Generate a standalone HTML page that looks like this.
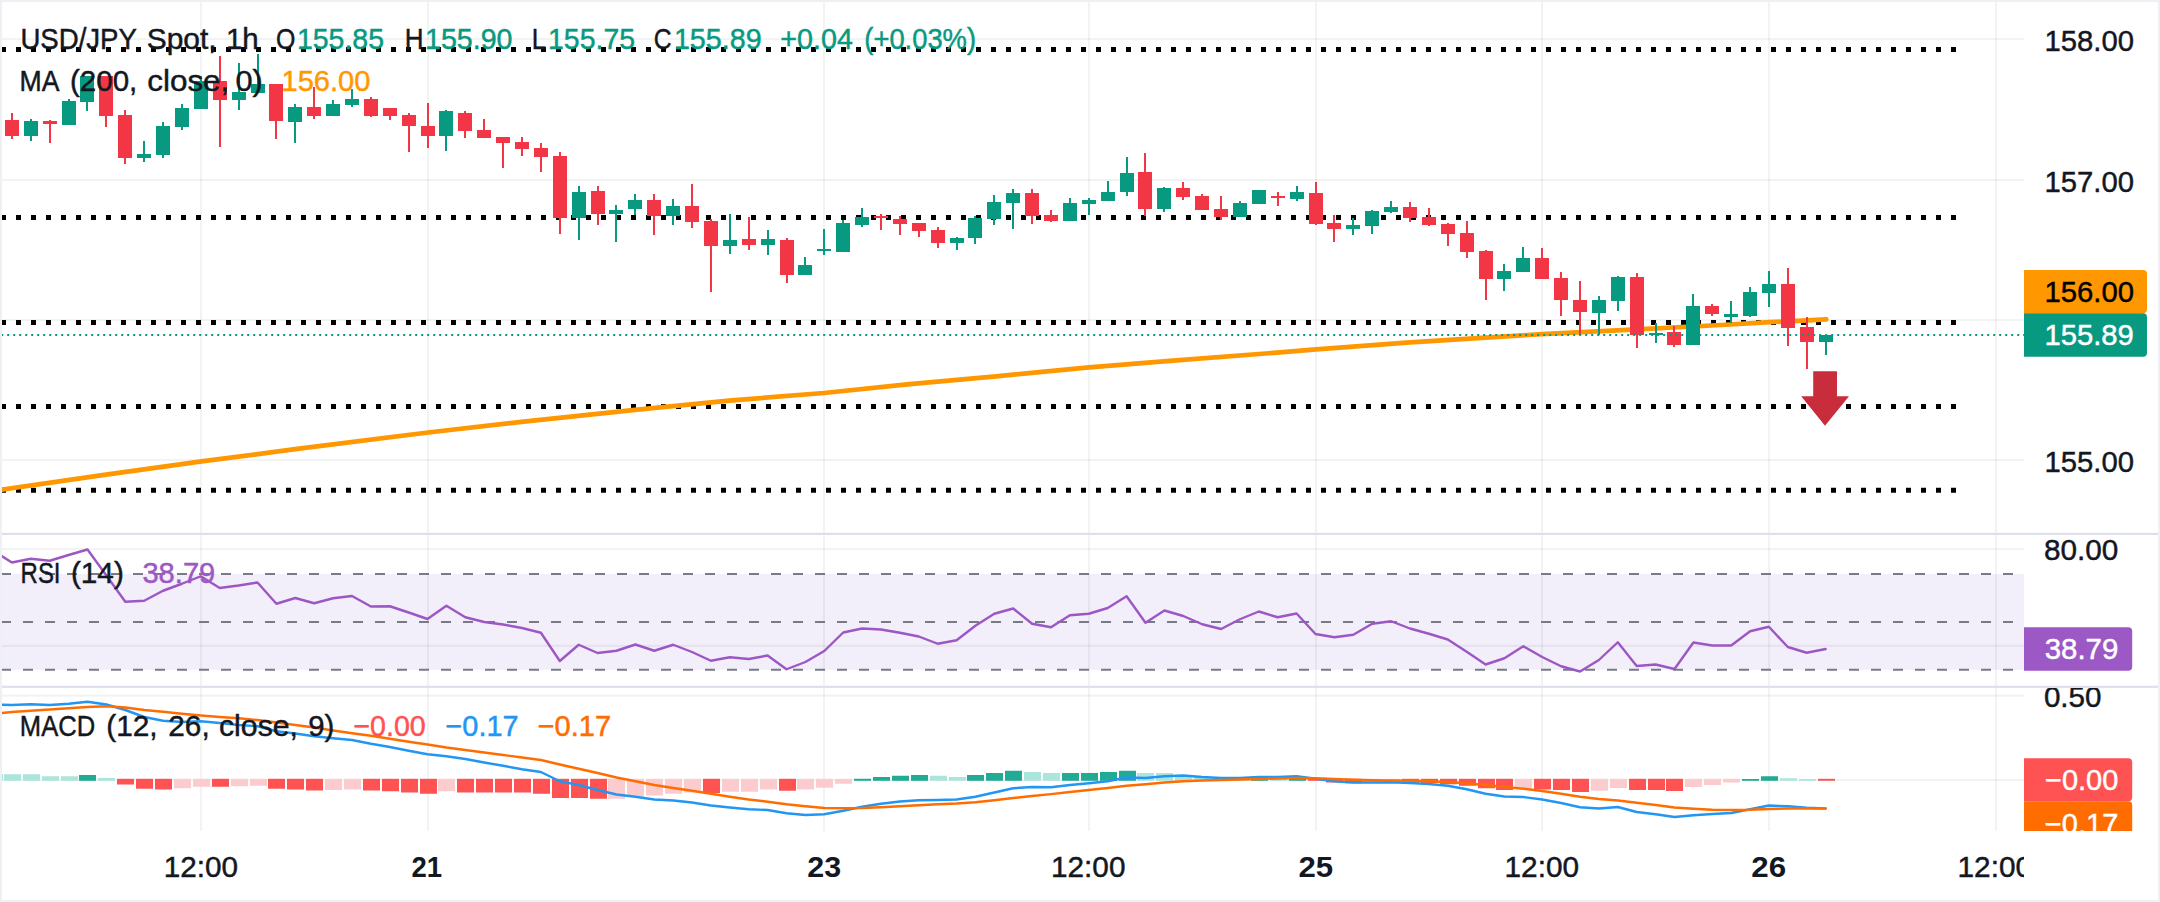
<!DOCTYPE html>
<html lang="en"><head><meta charset="utf-8"><title>USD/JPY Spot 1h chart</title>
<style>html,body{margin:0;padding:0;background:#fff}body{width:2160px;height:902px;overflow:hidden}svg{display:block}</style></head>
<body>
<svg width="2160" height="902" viewBox="0 0 2160 902" font-family="'Liberation Sans', sans-serif" role="img" aria-label="USD/JPY Spot 1h chart">
<defs>
<clipPath id="cPlot"><rect x="2" y="2" width="2022" height="829"/></clipPath>
<clipPath id="cMain"><rect x="2" y="2" width="2022" height="531"/></clipPath>
<clipPath id="cRsi"><rect x="2" y="535" width="2022" height="151"/></clipPath>
<clipPath id="cMacd"><rect x="2" y="688" width="2022" height="143"/></clipPath>
<clipPath id="cMacdAxis"><rect x="2024" y="688" width="136" height="143"/></clipPath>
<clipPath id="cTime"><rect x="0" y="831" width="2024" height="71"/></clipPath>
</defs>
<rect width="2160" height="902" fill="#ffffff"/>
<g fill="rgba(42,46,57,0.058)">
<rect x="200" y="2" width="2" height="829"/>
<rect x="427" y="2" width="2" height="829"/>
<rect x="823" y="2" width="2" height="829"/>
<rect x="1088" y="2" width="2" height="829"/>
<rect x="1315" y="2" width="2" height="829"/>
<rect x="1541" y="2" width="2" height="829"/>
<rect x="1768" y="2" width="2" height="829"/>
<rect x="1995" y="2" width="2" height="829"/>
<rect x="2" y="38.0" width="2022" height="2"/>
<rect x="2" y="179.0" width="2022" height="2"/>
<rect x="2" y="319.0" width="2022" height="2"/>
<rect x="2" y="459.0" width="2022" height="2"/>
<rect x="2" y="548.0" width="2022" height="2"/>
<rect x="2" y="644.8" width="2022" height="2"/>
<rect x="2" y="694.6" width="2022" height="2"/>
<rect x="2" y="779.0" width="2022" height="2"/>
</g>
<rect x="2" y="574" width="2022" height="95.8" fill="#f2eefa"/>
<g fill="rgba(42,46,57,0.058)">
<rect x="2" y="644.8" width="2022" height="2"/>
<rect x="200" y="574" width="2" height="95.8"/>
<rect x="427" y="574" width="2" height="95.8"/>
<rect x="823" y="574" width="2" height="95.8"/>
<rect x="1088" y="574" width="2" height="95.8"/>
<rect x="1315" y="574" width="2" height="95.8"/>
<rect x="1541" y="574" width="2" height="95.8"/>
<rect x="1768" y="574" width="2" height="95.8"/>
<rect x="1995" y="574" width="2" height="95.8"/>
</g>
<g stroke="#787b86" stroke-width="2" stroke-dasharray="10 12" clip-path="url(#cRsi)">
<line x1="1" y1="574" x2="2024" y2="574"/>
<line x1="1" y1="622" x2="2024" y2="622"/>
<line x1="1" y1="669.8" x2="2024" y2="669.8"/>
</g>
<g stroke="#000" stroke-width="5" stroke-dasharray="5 10">
<line x1="1" y1="49.5" x2="1957" y2="49.5"/>
<line x1="1" y1="217.5" x2="1957" y2="217.5"/>
<line x1="1" y1="322.5" x2="1957" y2="322.5"/>
<line x1="1" y1="406.5" x2="1957" y2="406.5"/>
<line x1="1" y1="490.2" x2="1957" y2="490.2"/>
</g>
<polyline points="-8,491.1 0,489.9 100.7,475.4 201.5,461.3 299,448.7 428,432.5 533,420.6 640,409.3 729,400.6 824,393 907,384.3 996,376.3 1089,367.4 1173,360.6 1280,352.4 1316,349.4 1410,342.4 1542,334.1 1617,330.4 1721,325 1770,322.2 1826.3,319.3" fill="none" stroke="#ff9800" stroke-width="4.7" stroke-linecap="round" stroke-linejoin="round" clip-path="url(#cMain)"/>
<g shape-rendering="crispEdges">
<rect x="11" y="113" width="2" height="26" fill="#f23645"/><rect x="5" y="120" width="14" height="16" fill="#f23645"/>
<rect x="30" y="119" width="2" height="22" fill="#089981"/><rect x="24" y="121" width="14" height="15" fill="#089981"/>
<rect x="49" y="120" width="2" height="23" fill="#f23645"/><rect x="43" y="121" width="14" height="3" fill="#f23645"/>
<rect x="68" y="99" width="2" height="26" fill="#089981"/><rect x="62" y="101" width="14" height="24" fill="#089981"/>
<rect x="86" y="76" width="2" height="35" fill="#089981"/><rect x="80" y="76" width="14" height="26" fill="#089981"/>
<rect x="105" y="76" width="2" height="51" fill="#f23645"/><rect x="99" y="76" width="14" height="40" fill="#f23645"/>
<rect x="124" y="110" width="2" height="54" fill="#f23645"/><rect x="118" y="115" width="14" height="43" fill="#f23645"/>
<rect x="143" y="141" width="2" height="21" fill="#089981"/><rect x="137" y="154" width="14" height="4" fill="#089981"/>
<rect x="162" y="122" width="2" height="36" fill="#089981"/><rect x="156" y="126" width="14" height="29" fill="#089981"/>
<rect x="181" y="104" width="2" height="26" fill="#089981"/><rect x="175" y="108" width="14" height="19" fill="#089981"/>
<rect x="200" y="76" width="2" height="33" fill="#089981"/><rect x="194" y="81" width="14" height="28" fill="#089981"/>
<rect x="219" y="56" width="2" height="91" fill="#f23645"/><rect x="213" y="81" width="14" height="19" fill="#f23645"/>
<rect x="238" y="63" width="2" height="47" fill="#089981"/><rect x="232" y="92" width="14" height="8" fill="#089981"/>
<rect x="257" y="54" width="2" height="39" fill="#089981"/><rect x="251" y="84" width="14" height="9" fill="#089981"/>
<rect x="275" y="84" width="2" height="55" fill="#f23645"/><rect x="269" y="84" width="14" height="37" fill="#f23645"/>
<rect x="294" y="104" width="2" height="39" fill="#089981"/><rect x="288" y="107" width="14" height="15" fill="#089981"/>
<rect x="313" y="87" width="2" height="32" fill="#f23645"/><rect x="307" y="107" width="14" height="9" fill="#f23645"/>
<rect x="332" y="100" width="2" height="16" fill="#089981"/><rect x="326" y="104" width="14" height="12" fill="#089981"/>
<rect x="351" y="89" width="2" height="18" fill="#089981"/><rect x="345" y="99" width="14" height="6" fill="#089981"/>
<rect x="370" y="97" width="2" height="20" fill="#f23645"/><rect x="364" y="99" width="14" height="17" fill="#f23645"/>
<rect x="389" y="108" width="2" height="12" fill="#f23645"/><rect x="383" y="108" width="14" height="8" fill="#f23645"/>
<rect x="408" y="113" width="2" height="39" fill="#f23645"/><rect x="402" y="115" width="14" height="11" fill="#f23645"/>
<rect x="427" y="103" width="2" height="45" fill="#f23645"/><rect x="421" y="126" width="14" height="10" fill="#f23645"/>
<rect x="445" y="110" width="2" height="41" fill="#089981"/><rect x="439" y="111" width="14" height="25" fill="#089981"/>
<rect x="464" y="111" width="2" height="27" fill="#f23645"/><rect x="458" y="113" width="14" height="18" fill="#f23645"/>
<rect x="483" y="119" width="2" height="19" fill="#f23645"/><rect x="477" y="130" width="14" height="8" fill="#f23645"/>
<rect x="502" y="137" width="2" height="31" fill="#f23645"/><rect x="496" y="137" width="14" height="6" fill="#f23645"/>
<rect x="521" y="137" width="2" height="19" fill="#f23645"/><rect x="515" y="142" width="14" height="7" fill="#f23645"/>
<rect x="540" y="143" width="2" height="29" fill="#f23645"/><rect x="534" y="148" width="14" height="9" fill="#f23645"/>
<rect x="559" y="152" width="2" height="82" fill="#f23645"/><rect x="553" y="156" width="14" height="62" fill="#f23645"/>
<rect x="578" y="186" width="2" height="54" fill="#089981"/><rect x="572" y="192" width="14" height="26" fill="#089981"/>
<rect x="597" y="186" width="2" height="39" fill="#f23645"/><rect x="591" y="191" width="14" height="23" fill="#f23645"/>
<rect x="615" y="205" width="2" height="37" fill="#089981"/><rect x="609" y="210" width="14" height="4" fill="#089981"/>
<rect x="634" y="194" width="2" height="21" fill="#089981"/><rect x="628" y="200" width="14" height="9" fill="#089981"/>
<rect x="653" y="194" width="2" height="41" fill="#f23645"/><rect x="647" y="200" width="14" height="16" fill="#f23645"/>
<rect x="672" y="199" width="2" height="26" fill="#089981"/><rect x="666" y="206" width="14" height="10" fill="#089981"/>
<rect x="691" y="184" width="2" height="44" fill="#f23645"/><rect x="685" y="206" width="14" height="16" fill="#f23645"/>
<rect x="710" y="219" width="2" height="73" fill="#f23645"/><rect x="704" y="221" width="14" height="25" fill="#f23645"/>
<rect x="729" y="214" width="2" height="40" fill="#089981"/><rect x="723" y="240" width="14" height="6" fill="#089981"/>
<rect x="748" y="217" width="2" height="33" fill="#f23645"/><rect x="742" y="239" width="14" height="6" fill="#f23645"/>
<rect x="767" y="230" width="2" height="25" fill="#089981"/><rect x="761" y="239" width="14" height="6" fill="#089981"/>
<rect x="786" y="238" width="2" height="45" fill="#f23645"/><rect x="780" y="240" width="14" height="35" fill="#f23645"/>
<rect x="804" y="257" width="2" height="18" fill="#089981"/><rect x="798" y="265" width="14" height="10" fill="#089981"/>
<rect x="823" y="229" width="2" height="26" fill="#089981"/><rect x="817" y="249" width="14" height="2" fill="#089981"/>
<rect x="842" y="220" width="2" height="32" fill="#089981"/><rect x="836" y="223" width="14" height="29" fill="#089981"/>
<rect x="861" y="208" width="2" height="19" fill="#089981"/><rect x="855" y="217" width="14" height="8" fill="#089981"/>
<rect x="880" y="214" width="2" height="16" fill="#f23645"/><rect x="874" y="216" width="14" height="2" fill="#f23645"/>
<rect x="899" y="216" width="2" height="19" fill="#f23645"/><rect x="893" y="219" width="14" height="5" fill="#f23645"/>
<rect x="918" y="223" width="2" height="14" fill="#f23645"/><rect x="912" y="223" width="14" height="8" fill="#f23645"/>
<rect x="937" y="227" width="2" height="21" fill="#f23645"/><rect x="931" y="230" width="14" height="13" fill="#f23645"/>
<rect x="956" y="237" width="2" height="13" fill="#089981"/><rect x="950" y="238" width="14" height="5" fill="#089981"/>
<rect x="974" y="216" width="2" height="28" fill="#089981"/><rect x="968" y="218" width="14" height="20" fill="#089981"/>
<rect x="993" y="195" width="2" height="30" fill="#089981"/><rect x="987" y="202" width="14" height="17" fill="#089981"/>
<rect x="1012" y="189" width="2" height="40" fill="#089981"/><rect x="1006" y="193" width="14" height="10" fill="#089981"/>
<rect x="1031" y="189" width="2" height="35" fill="#f23645"/><rect x="1025" y="193" width="14" height="23" fill="#f23645"/>
<rect x="1050" y="210" width="2" height="12" fill="#f23645"/><rect x="1044" y="215" width="14" height="6" fill="#f23645"/>
<rect x="1069" y="198" width="2" height="23" fill="#089981"/><rect x="1063" y="203" width="14" height="18" fill="#089981"/>
<rect x="1088" y="198" width="2" height="17" fill="#089981"/><rect x="1082" y="200" width="14" height="4" fill="#089981"/>
<rect x="1107" y="181" width="2" height="20" fill="#089981"/><rect x="1101" y="192" width="14" height="9" fill="#089981"/>
<rect x="1126" y="157" width="2" height="39" fill="#089981"/><rect x="1120" y="173" width="14" height="19" fill="#089981"/>
<rect x="1144" y="153" width="2" height="63" fill="#f23645"/><rect x="1138" y="172" width="14" height="37" fill="#f23645"/>
<rect x="1163" y="187" width="2" height="25" fill="#089981"/><rect x="1157" y="188" width="14" height="21" fill="#089981"/>
<rect x="1182" y="182" width="2" height="18" fill="#f23645"/><rect x="1176" y="188" width="14" height="9" fill="#f23645"/>
<rect x="1201" y="194" width="2" height="16" fill="#f23645"/><rect x="1195" y="196" width="14" height="14" fill="#f23645"/>
<rect x="1220" y="196" width="2" height="24" fill="#f23645"/><rect x="1214" y="209" width="14" height="8" fill="#f23645"/>
<rect x="1239" y="201" width="2" height="16" fill="#089981"/><rect x="1233" y="203" width="14" height="14" fill="#089981"/>
<rect x="1258" y="190" width="2" height="14" fill="#089981"/><rect x="1252" y="190" width="14" height="14" fill="#089981"/>
<rect x="1277" y="192" width="2" height="14" fill="#f23645"/><rect x="1271" y="196" width="14" height="2" fill="#f23645"/>
<rect x="1296" y="186" width="2" height="15" fill="#089981"/><rect x="1290" y="192" width="14" height="7" fill="#089981"/>
<rect x="1315" y="182" width="2" height="43" fill="#f23645"/><rect x="1309" y="193" width="14" height="31" fill="#f23645"/>
<rect x="1333" y="215" width="2" height="27" fill="#f23645"/><rect x="1327" y="223" width="14" height="6" fill="#f23645"/>
<rect x="1352" y="218" width="2" height="17" fill="#089981"/><rect x="1346" y="225" width="14" height="4" fill="#089981"/>
<rect x="1371" y="210" width="2" height="24" fill="#089981"/><rect x="1365" y="211" width="14" height="15" fill="#089981"/>
<rect x="1390" y="201" width="2" height="12" fill="#089981"/><rect x="1384" y="207" width="14" height="5" fill="#089981"/>
<rect x="1409" y="202" width="2" height="20" fill="#f23645"/><rect x="1403" y="207" width="14" height="11" fill="#f23645"/>
<rect x="1428" y="208" width="2" height="18" fill="#f23645"/><rect x="1422" y="217" width="14" height="8" fill="#f23645"/>
<rect x="1447" y="223" width="2" height="23" fill="#f23645"/><rect x="1441" y="224" width="14" height="10" fill="#f23645"/>
<rect x="1466" y="221" width="2" height="37" fill="#f23645"/><rect x="1460" y="233" width="14" height="19" fill="#f23645"/>
<rect x="1485" y="250" width="2" height="50" fill="#f23645"/><rect x="1479" y="251" width="14" height="28" fill="#f23645"/>
<rect x="1503" y="264" width="2" height="27" fill="#089981"/><rect x="1497" y="271" width="14" height="8" fill="#089981"/>
<rect x="1522" y="247" width="2" height="25" fill="#089981"/><rect x="1516" y="258" width="14" height="14" fill="#089981"/>
<rect x="1541" y="248" width="2" height="31" fill="#f23645"/><rect x="1535" y="258" width="14" height="21" fill="#f23645"/>
<rect x="1560" y="272" width="2" height="44" fill="#f23645"/><rect x="1554" y="278" width="14" height="22" fill="#f23645"/>
<rect x="1579" y="281" width="2" height="54" fill="#f23645"/><rect x="1573" y="300" width="14" height="12" fill="#f23645"/>
<rect x="1598" y="296" width="2" height="39" fill="#089981"/><rect x="1592" y="300" width="14" height="13" fill="#089981"/>
<rect x="1617" y="276" width="2" height="35" fill="#089981"/><rect x="1611" y="277" width="14" height="24" fill="#089981"/>
<rect x="1636" y="273" width="2" height="75" fill="#f23645"/><rect x="1630" y="277" width="14" height="58" fill="#f23645"/>
<rect x="1655" y="323" width="2" height="20" fill="#089981"/><rect x="1649" y="333" width="14" height="2" fill="#089981"/>
<rect x="1673" y="326" width="2" height="21" fill="#f23645"/><rect x="1667" y="332" width="14" height="13" fill="#f23645"/>
<rect x="1692" y="294" width="2" height="51" fill="#089981"/><rect x="1686" y="306" width="14" height="39" fill="#089981"/>
<rect x="1711" y="304" width="2" height="12" fill="#f23645"/><rect x="1705" y="306" width="14" height="8" fill="#f23645"/>
<rect x="1730" y="301" width="2" height="22" fill="#089981"/><rect x="1724" y="314" width="14" height="3" fill="#089981"/>
<rect x="1749" y="287" width="2" height="30" fill="#089981"/><rect x="1743" y="292" width="14" height="24" fill="#089981"/>
<rect x="1768" y="271" width="2" height="36" fill="#089981"/><rect x="1762" y="284" width="14" height="9" fill="#089981"/>
<rect x="1787" y="268" width="2" height="78" fill="#f23645"/><rect x="1781" y="284" width="14" height="44" fill="#f23645"/>
<rect x="1806" y="317" width="2" height="52" fill="#f23645"/><rect x="1800" y="327" width="14" height="15" fill="#f23645"/>
<rect x="1825" y="335" width="2" height="20" fill="#089981"/><rect x="1819" y="335" width="14" height="7" fill="#089981"/>
</g>
<line x1="1.2" y1="335" x2="2024" y2="335" stroke="#089981" stroke-width="2" stroke-dasharray="2 4"/>
<path d="M1813.2 371.3H1837V396.2H1849L1825 425.8L1801.2 396.2H1813.2Z" fill="#c92d3b"/>
<polyline points="-7.0,550.6 11.9,562.5 30.8,558.75 49.7,560.75 68.6,555 87.5,549.5 106.4,575.5 125.3,601.75 144.2,600.75 163.0,590.75 181.9,583.75 200.8,576.25 219.7,588 238.6,585.5 257.5,582.5 276.4,603.75 295.3,598 314.2,603.25 333.1,598.25 352.0,596 370.9,606.5 389.8,606.25 408.7,612.5 427.5,619 446.4,605.75 465.3,617.25 484.2,622 503.1,624.5 522.0,628 540.9,632.75 559.8,661 578.7,644.75 597.6,653 616.5,650.75 635.4,644.5 654.3,650.75 673.2,644.75 692.0,652 710.9,660.75 729.8,657.25 748.7,659 767.6,655.5 786.5,669.25 805.4,662 824.3,651 843.2,632.5 862.1,628.5 881.0,629.5 899.9,632.75 918.8,636.5 937.7,643.75 956.6,640.25 975.4,625.75 994.3,613.75 1013.2,608.5 1032.1,623.75 1051.0,627.25 1069.9,615.25 1088.8,613.75 1107.7,608 1126.6,596.25 1145.5,622.75 1164.4,610.5 1183.3,616 1202.2,624.25 1221.1,629 1239.9,619.25 1258.8,611.5 1277.7,617.25 1296.6,613.5 1315.5,634 1334.4,637.25 1353.3,634.75 1372.2,623.75 1391.1,621.25 1410.0,628.5 1428.9,633.75 1447.8,639.5 1466.7,651.75 1485.6,664.5 1504.4,658.25 1523.3,646.25 1542.2,657 1561.1,666.25 1580.0,671.5 1598.9,660 1617.8,642.25 1636.7,666 1655.6,664.5 1674.5,669 1693.4,642.5 1712.3,645.5 1731.2,645.5 1750.1,631.25 1768.9,626.75 1787.8,647 1806.7,652.75 1825.6,649" fill="none" stroke="#9d57c5" stroke-width="2.4" stroke-linejoin="round" stroke-linecap="round" clip-path="url(#cRsi)"/>
<g clip-path="url(#cMacd)">
<rect x="-14.0" y="774" width="17" height="6.8" fill="#ace5dc"/>
<rect x="4.0" y="774.25" width="17" height="6.55" fill="#ace5dc"/>
<rect x="23.0" y="774.25" width="17" height="6.55" fill="#ace5dc"/>
<rect x="42.0" y="776.25" width="17" height="4.55" fill="#ace5dc"/>
<rect x="61.0" y="776.25" width="17" height="4.55" fill="#ace5dc"/>
<rect x="79.0" y="775" width="17" height="5.8" fill="#22ab94"/>
<rect x="98.0" y="778" width="17" height="2.8" fill="#ace5dc"/>
<rect x="117.0" y="778.8" width="17" height="5.7" fill="#ff5252"/>
<rect x="136.0" y="778.8" width="17" height="9.95" fill="#ff5252"/>
<rect x="155.0" y="778.8" width="17" height="10.7" fill="#ff5252"/>
<rect x="174.0" y="778.8" width="17" height="9.45" fill="#fccbcd"/>
<rect x="193.0" y="778.8" width="17" height="7.95" fill="#fccbcd"/>
<rect x="212.0" y="778.8" width="17" height="7.95" fill="#ff5252"/>
<rect x="231.0" y="778.8" width="17" height="7.45" fill="#fccbcd"/>
<rect x="250.0" y="778.8" width="17" height="6.95" fill="#fccbcd"/>
<rect x="268.0" y="778.8" width="17" height="9.95" fill="#ff5252"/>
<rect x="287.0" y="778.8" width="17" height="10.7" fill="#ff5252"/>
<rect x="306.0" y="778.8" width="17" height="11.7" fill="#ff5252"/>
<rect x="325.0" y="778.8" width="17" height="11.2" fill="#fccbcd"/>
<rect x="344.0" y="778.8" width="17" height="10.7" fill="#fccbcd"/>
<rect x="363.0" y="778.8" width="17" height="11.7" fill="#ff5252"/>
<rect x="382.0" y="778.8" width="17" height="12.45" fill="#ff5252"/>
<rect x="401.0" y="778.8" width="17" height="13.7" fill="#ff5252"/>
<rect x="420.0" y="778.8" width="17" height="14.95" fill="#ff5252"/>
<rect x="438.0" y="778.8" width="17" height="12.45" fill="#fccbcd"/>
<rect x="457.0" y="778.8" width="17" height="13.7" fill="#ff5252"/>
<rect x="476.0" y="778.8" width="17" height="13.7" fill="#ff5252"/>
<rect x="495.0" y="778.8" width="17" height="13.7" fill="#ff5252"/>
<rect x="514.0" y="778.8" width="17" height="13.7" fill="#ff5252"/>
<rect x="533.0" y="778.8" width="17" height="14.95" fill="#ff5252"/>
<rect x="552.0" y="778.8" width="17" height="19.2" fill="#ff5252"/>
<rect x="571.0" y="778.8" width="17" height="19.2" fill="#ff5252"/>
<rect x="590.0" y="778.8" width="17" height="19.95" fill="#ff5252"/>
<rect x="608.0" y="778.8" width="17" height="19.95" fill="#fccbcd"/>
<rect x="627.0" y="778.8" width="17" height="17.95" fill="#fccbcd"/>
<rect x="646.0" y="778.8" width="17" height="16.7" fill="#fccbcd"/>
<rect x="665.0" y="778.8" width="17" height="14.95" fill="#fccbcd"/>
<rect x="684.0" y="778.8" width="17" height="13.7" fill="#fccbcd"/>
<rect x="703.0" y="778.8" width="17" height="14.2" fill="#ff5252"/>
<rect x="722.0" y="778.8" width="17" height="12.95" fill="#fccbcd"/>
<rect x="741.0" y="778.8" width="17" height="12.95" fill="#fccbcd"/>
<rect x="760.0" y="778.8" width="17" height="10.7" fill="#fccbcd"/>
<rect x="779.0" y="778.8" width="17" height="11.95" fill="#ff5252"/>
<rect x="797.0" y="778.8" width="17" height="10.7" fill="#fccbcd"/>
<rect x="816.0" y="778.8" width="17" height="8.95" fill="#fccbcd"/>
<rect x="835.0" y="778.8" width="17" height="4.95" fill="#fccbcd"/>
<rect x="854.0" y="778.75" width="17" height="2.05" fill="#22ab94"/>
<rect x="873.0" y="777" width="17" height="3.8" fill="#22ab94"/>
<rect x="892.0" y="775.75" width="17" height="5.05" fill="#22ab94"/>
<rect x="911.0" y="775" width="17" height="5.8" fill="#22ab94"/>
<rect x="930.0" y="775.75" width="17" height="5.05" fill="#ace5dc"/>
<rect x="949.0" y="777" width="17" height="3.8" fill="#ace5dc"/>
<rect x="967.0" y="775" width="17" height="5.8" fill="#22ab94"/>
<rect x="986.0" y="773" width="17" height="7.8" fill="#22ab94"/>
<rect x="1005.0" y="770.75" width="17" height="10.05" fill="#22ab94"/>
<rect x="1024.0" y="772" width="17" height="8.8" fill="#ace5dc"/>
<rect x="1043.0" y="773" width="17" height="7.8" fill="#ace5dc"/>
<rect x="1062.0" y="773" width="17" height="7.8" fill="#22ab94"/>
<rect x="1081.0" y="773" width="17" height="7.8" fill="#22ab94"/>
<rect x="1100.0" y="772" width="17" height="8.8" fill="#22ab94"/>
<rect x="1119.0" y="770.75" width="17" height="10.05" fill="#22ab94"/>
<rect x="1137.0" y="773" width="17" height="7.8" fill="#ace5dc"/>
<rect x="1156.0" y="773" width="17" height="7.8" fill="#ace5dc"/>
<rect x="1175.0" y="775.5" width="17" height="5.3" fill="#ace5dc"/>
<rect x="1194.0" y="777" width="17" height="3.8" fill="#ace5dc"/>
<rect x="1213.0" y="778" width="17" height="2.8" fill="#ace5dc"/>
<rect x="1232.0" y="778.5" width="17" height="2.3" fill="#ace5dc"/>
<rect x="1251.0" y="777.5" width="17" height="3.3" fill="#22ab94"/>
<rect x="1270.0" y="778" width="17" height="2.8" fill="#ace5dc"/>
<rect x="1289.0" y="777" width="17" height="3.8" fill="#22ab94"/>
<rect x="1308.0" y="778.8" width="17" height="1.95" fill="#ff5252"/>
<rect x="1326.0" y="778.8" width="17" height="3.7" fill="#ff5252"/>
<rect x="1345.0" y="778.8" width="17" height="4.45" fill="#ff5252"/>
<rect x="1364.0" y="778.8" width="17" height="4.2" fill="#fccbcd"/>
<rect x="1383.0" y="778.8" width="17" height="3.7" fill="#fccbcd"/>
<rect x="1402.0" y="778.8" width="17" height="3.7" fill="#ff5252"/>
<rect x="1421.0" y="778.8" width="17" height="4.2" fill="#ff5252"/>
<rect x="1440.0" y="778.8" width="17" height="5.45" fill="#ff5252"/>
<rect x="1459.0" y="778.8" width="17" height="6.95" fill="#ff5252"/>
<rect x="1478.0" y="778.8" width="17" height="9.45" fill="#ff5252"/>
<rect x="1496.0" y="778.8" width="17" height="11.2" fill="#ff5252"/>
<rect x="1515.0" y="778.8" width="17" height="9.95" fill="#fccbcd"/>
<rect x="1534.0" y="778.8" width="17" height="10.7" fill="#ff5252"/>
<rect x="1553.0" y="778.8" width="17" height="11.2" fill="#ff5252"/>
<rect x="1572.0" y="778.8" width="17" height="13.2" fill="#ff5252"/>
<rect x="1591.0" y="778.8" width="17" height="11.95" fill="#fccbcd"/>
<rect x="1610.0" y="778.8" width="17" height="9.2" fill="#fccbcd"/>
<rect x="1629.0" y="778.8" width="17" height="11.2" fill="#ff5252"/>
<rect x="1648.0" y="778.8" width="17" height="11.2" fill="#ff5252"/>
<rect x="1666.0" y="778.8" width="17" height="12.2" fill="#ff5252"/>
<rect x="1685.0" y="778.8" width="17" height="8.2" fill="#fccbcd"/>
<rect x="1704.0" y="778.8" width="17" height="6.2" fill="#fccbcd"/>
<rect x="1723.0" y="778.8" width="17" height="3.7" fill="#fccbcd"/>
<rect x="1742.0" y="779" width="17" height="1.8" fill="#22ab94"/>
<rect x="1761.0" y="776.25" width="17" height="4.55" fill="#22ab94"/>
<rect x="1780.0" y="778.25" width="17" height="2.55" fill="#ace5dc"/>
<rect x="1799.0" y="779" width="17" height="1.8" fill="#ace5dc"/>
<rect x="1818.0" y="778.8" width="17" height="1.95" fill="#ff5252"/>
<polyline points="-7.0,704.5 11.9,705 30.8,704.25 49.7,705 68.6,703.75 87.5,701.75 106.4,704.5 125.3,710 144.2,717 163.0,720.75 181.9,722 200.8,721.25 219.7,723 238.6,725 257.5,726.25 276.4,731.25 295.3,733.5 314.2,736.25 333.1,738.25 352.0,740 370.9,743.75 389.8,747 408.7,750.75 427.5,754.25 446.4,756.25 465.3,759 484.2,762.5 503.1,765.75 522.0,769.25 540.9,772 559.8,781.25 578.7,785 597.6,790 616.5,794.5 635.4,796.75 654.3,799.5 673.2,800.5 692.0,802.5 710.9,805.5 729.8,807.5 748.7,809.25 767.6,810 786.5,813.25 805.4,815 824.3,814.25 843.2,810.75 862.1,806.75 881.0,803.75 899.9,801.5 918.8,800.25 937.7,800 956.6,799.5 975.4,796.75 994.3,792.5 1013.2,788.25 1032.1,787 1051.0,787.25 1069.9,785 1088.8,783.25 1107.7,781.25 1126.6,777.5 1145.5,778 1164.4,776.25 1183.3,775.5 1202.2,777 1221.1,778 1239.9,778 1258.8,777 1277.7,777 1296.6,776.25 1315.5,778.75 1334.4,781.25 1353.3,782.5 1372.2,782.5 1391.1,782.25 1410.0,783 1428.9,784 1447.8,785.75 1466.7,789.25 1485.6,793.75 1504.4,796.5 1523.3,797 1542.2,799.5 1561.1,803 1580.0,807.25 1598.9,808.5 1617.8,807 1636.7,812 1655.6,814.25 1674.5,817 1693.4,815.25 1712.3,814 1731.2,813 1750.1,809.25 1768.9,805.5 1787.8,806.25 1806.7,807.75 1825.6,808.5" fill="none" stroke="#2196f3" stroke-width="2.4" stroke-linejoin="round" stroke-linecap="round"/>
<polyline points="-7.0,713.9 11.9,712 30.8,710.75 49.7,709.5 68.6,708.25 87.5,707 106.4,706.25 125.3,707.5 144.2,710 163.0,711.75 181.9,713.75 200.8,715.5 219.7,717 238.6,718.25 257.5,720 276.4,722.5 295.3,725 314.2,727.5 333.1,730.5 352.0,733.25 370.9,735.75 389.8,738.75 408.7,741.75 427.5,744.5 446.4,747.5 465.3,750 484.2,752.5 503.1,755 522.0,757.5 540.9,760 559.8,764.5 578.7,768.75 597.6,773 616.5,777.5 635.4,781.25 654.3,785 673.2,788 692.0,790.75 710.9,793.75 729.8,796.75 748.7,799.5 767.6,801.75 786.5,804.25 805.4,806.25 824.3,808 843.2,808.25 862.1,808 881.0,807.25 899.9,806.25 918.8,805.25 937.7,804.25 956.6,803.5 975.4,802.25 994.3,800.25 1013.2,798 1032.1,796 1051.0,794.1 1069.9,792 1088.8,790 1107.7,788 1126.6,785.75 1145.5,784.25 1164.4,782.5 1183.3,781.25 1202.2,780.5 1221.1,780 1239.9,779.5 1258.8,779 1277.7,778.5 1296.6,778 1315.5,778.25 1334.4,779 1353.3,779.75 1372.2,780.25 1391.1,780.5 1410.0,780.75 1428.9,781.25 1447.8,782 1466.7,783.25 1485.6,785 1504.4,787 1523.3,788.75 1542.2,791 1561.1,793.75 1580.0,796.75 1598.9,799 1617.8,800.5 1636.7,802.75 1655.6,805 1674.5,807.5 1693.4,808.75 1712.3,809.75 1731.2,810 1750.1,809.75 1768.9,809 1787.8,808.5 1806.7,808.5 1825.6,808.5" fill="none" stroke="#ff6d00" stroke-width="2.4" stroke-linejoin="round" stroke-linecap="round"/>
</g>
<rect x="0" y="532.8" width="2160" height="2.2" fill="#dde0ea"/>
<rect x="0" y="685.7" width="2160" height="2.2" fill="#dde0ea"/>
<path d="M2024 270H2143Q2147 270 2147 274V309.2Q2147 313.2 2143 313.2H2024Z" fill="#ff9800"/>
<path d="M2024 313.2H2143Q2147 313.2 2147 317.2V352.7Q2147 356.7 2143 356.7H2024Z" fill="#089981"/>
<path d="M2024 627.2H2128.2Q2132.2 627.2 2132.2 631.2V666.7Q2132.2 670.7 2128.2 670.7H2024Z" fill="#9c58c5"/>
<g clip-path="url(#cMacdAxis)"><path d="M2024 801.3H2128.2Q2132.2 801.3 2132.2 805.3V840.8Q2132.2 844.8 2128.2 844.8H2024Z" fill="#ff6d00"/></g>
<path d="M2024 758.2H2128.2Q2132.2 758.2 2132.2 762.2V797.3000000000001Q2132.2 801.3000000000001 2128.2 801.3000000000001H2024Z" fill="#ff5252"/>
<text transform="translate(20.39 48.60) scale(0.9520 1)" font-size="29.0" fill="#131722" stroke="#131722" stroke-width="0.45">USD/JPY</text>
<text transform="translate(146.80 48.60) scale(1.0311 1)" font-size="29.0" fill="#131722" stroke="#131722" stroke-width="0.45">Spot,</text>
<text transform="translate(225.94 48.60) scale(1.0140 1)" font-size="29.0" fill="#131722" stroke="#131722" stroke-width="0.45">1h</text>
<text transform="translate(276.00 48.60) scale(0.8582 1)" font-size="29.0" fill="#131722" stroke="#131722" stroke-width="0.45">O</text>
<text transform="translate(296.92 48.60) scale(0.9821 1)" font-size="29.0" fill="#089981" stroke="#089981" stroke-width="0.45">155.85</text>
<text transform="translate(404.78 48.60) scale(0.8976 1)" font-size="29.0" fill="#131722" stroke="#131722" stroke-width="0.45">H</text>
<text transform="translate(425.00 48.60) scale(0.9865 1)" font-size="29.0" fill="#089981" stroke="#089981" stroke-width="0.45">155.90</text>
<text transform="translate(531.71 48.60) scale(0.8835 1)" font-size="29.0" fill="#131722" stroke="#131722" stroke-width="0.45">L</text>
<text transform="translate(548.02 48.60) scale(0.9810 1)" font-size="29.0" fill="#089981" stroke="#089981" stroke-width="0.45">155.75</text>
<text transform="translate(653.77 48.60) scale(0.8511 1)" font-size="29.0" fill="#131722" stroke="#131722" stroke-width="0.45">C</text>
<text transform="translate(673.91 48.60) scale(0.9896 1)" font-size="29.0" fill="#089981" stroke="#089981" stroke-width="0.45">155.89</text>
<text transform="translate(780.29 48.60) scale(0.9895 1)" font-size="29.0" fill="#089981" stroke="#089981" stroke-width="0.45">+0.04</text>
<text transform="translate(864.34 48.60) scale(0.9432 1)" font-size="29.0" fill="#089981" stroke="#089981" stroke-width="0.45">(+0.03%)</text>
<text transform="translate(19.56 91.00) scale(0.9188 1)" font-size="29.0" fill="#131722" stroke="#131722" stroke-width="0.45">MA</text>
<text transform="translate(69.99 91.00) scale(1.0177 1)" font-size="29.0" fill="#131722" stroke="#131722" stroke-width="0.45">(200,</text>
<text transform="translate(147.22 91.00) scale(1.0841 1)" font-size="29.0" fill="#131722" stroke="#131722" stroke-width="0.45">close,</text>
<text transform="translate(235.52 91.00) scale(1.0583 1)" font-size="29.0" fill="#131722" stroke="#131722" stroke-width="0.45">0)</text>
<text transform="translate(281.55 91.00) scale(1.0026 1)" font-size="29.0" fill="#ff9800" stroke="#ff9800" stroke-width="0.45">156.00</text>
<text transform="translate(20.58 582.60) scale(0.8266 1)" font-size="29.0" fill="#131722" stroke="#131722" stroke-width="0.45">RSI</text>
<text transform="translate(70.94 582.60) scale(1.0250 1)" font-size="29.0" fill="#131722" stroke="#131722" stroke-width="0.45">(14)</text>
<text transform="translate(142.43 582.60) scale(1.0044 1)" font-size="29.0" fill="#9c58c5" stroke="#9c58c5" stroke-width="0.45">38.79</text>
<text transform="translate(19.87 736.20) scale(0.8825 1)" font-size="29.0" fill="#131722" stroke="#131722" stroke-width="0.45">MACD</text>
<text transform="translate(106.21 736.20) scale(1.0296 1)" font-size="29.0" fill="#131722" stroke="#131722" stroke-width="0.45">(12,</text>
<text transform="translate(168.34 736.20) scale(1.0258 1)" font-size="29.0" fill="#131722" stroke="#131722" stroke-width="0.45">26,</text>
<text transform="translate(219.00 736.20) scale(1.0432 1)" font-size="29.0" fill="#131722" stroke="#131722" stroke-width="0.45">close,</text>
<text transform="translate(308.24 736.20) scale(1.0094 1)" font-size="29.0" fill="#131722" stroke="#131722" stroke-width="0.45">9)</text>
<text transform="translate(353.39 736.20) scale(0.9869 1)" font-size="29.0" fill="#ff5252" stroke="#ff5252" stroke-width="0.45">−0.00</text>
<text transform="translate(445.49 736.20) scale(0.9953 1)" font-size="29.0" fill="#2196f3" stroke="#2196f3" stroke-width="0.45">−0.17</text>
<text transform="translate(537.65 736.20) scale(1.0014 1)" font-size="29.0" fill="#ff6d00" stroke="#ff6d00" stroke-width="0.45">−0.17</text>
<text transform="translate(2044.60 51.20) scale(0.9914 1)" font-size="29.5" fill="#131722" stroke="#131722" stroke-width="0.45">158.00</text>
<text transform="translate(2044.60 191.50) scale(0.9914 1)" font-size="29.5" fill="#131722" stroke="#131722" stroke-width="0.45">157.00</text>
<text transform="translate(2044.60 472.00) scale(0.9914 1)" font-size="29.5" fill="#131722" stroke="#131722" stroke-width="0.45">155.00</text>
<text transform="translate(2044.52 302.20) scale(1.0095 1)" font-size="29.0" fill="#000000" stroke="#000000" stroke-width="0.45">156.00</text>
<text transform="translate(2044.56 345.40) scale(1.0056 1)" font-size="29.0" fill="#ffffff" stroke="#ffffff" stroke-width="0.45">155.89</text>
<text transform="translate(2043.92 560.20) scale(1.0079 1)" font-size="29.5" fill="#131722" stroke="#131722" stroke-width="0.45">80.00</text>
<text transform="translate(2044.71 659.00) scale(1.0150 1)" font-size="29.0" fill="#ffffff" stroke="#ffffff" stroke-width="0.45">38.79</text>
<g clip-path="url(#cMacdAxis)"><text transform="translate(2043.89 706.60) scale(1.0043 1)" font-size="29.5" fill="#131722" stroke="#131722" stroke-width="0.45">0.50</text></g>
<text transform="translate(2044.96 790.30) scale(1.0006 1)" font-size="29.0" fill="#ffffff" stroke="#ffffff" stroke-width="0.45">−0.00</text>
<g clip-path="url(#cMacdAxis)"><text transform="translate(2044.85 834.30) scale(1.0011 1)" font-size="29.0" fill="#ffffff" stroke="#ffffff" stroke-width="0.45">−0.17</text></g>
<text transform="translate(163.75 876.90) scale(1.0245 1)" font-size="29.0" fill="#131722" stroke="#131722" stroke-width="0.45">12:00</text>
<text transform="translate(1051.04 876.90) scale(1.0257 1)" font-size="29.0" fill="#131722" stroke="#131722" stroke-width="0.45">12:00</text>
<text transform="translate(1504.53 876.90) scale(1.0270 1)" font-size="29.0" fill="#131722" stroke="#131722" stroke-width="0.45">12:00</text>
<g clip-path="url(#cTime)"><text transform="translate(1957.53 876.90) scale(1.0270 1)" font-size="29.0" fill="#131722" stroke="#131722" stroke-width="0.45">12:00</text></g>
<text transform="translate(411.48 876.90) scale(0.9500 1)" font-size="29.0" fill="#131722" stroke="#131722" stroke-width="0" font-weight="700">21</text>
<text transform="translate(807.23 876.90) scale(1.0499 1)" font-size="29.0" fill="#131722" stroke="#131722" stroke-width="0" font-weight="700">23</text>
<text transform="translate(1298.52 876.90) scale(1.0751 1)" font-size="29.0" fill="#131722" stroke="#131722" stroke-width="0" font-weight="700">25</text>
<text transform="translate(1751.30 876.90) scale(1.0797 1)" font-size="29.0" fill="#131722" stroke="#131722" stroke-width="0" font-weight="700">26</text>
<path d="M0 0H2160V902H0Z M2 2V900H2158V2Z" fill="#eef0f5" fill-rule="evenodd"/>
</svg>
</body></html>
